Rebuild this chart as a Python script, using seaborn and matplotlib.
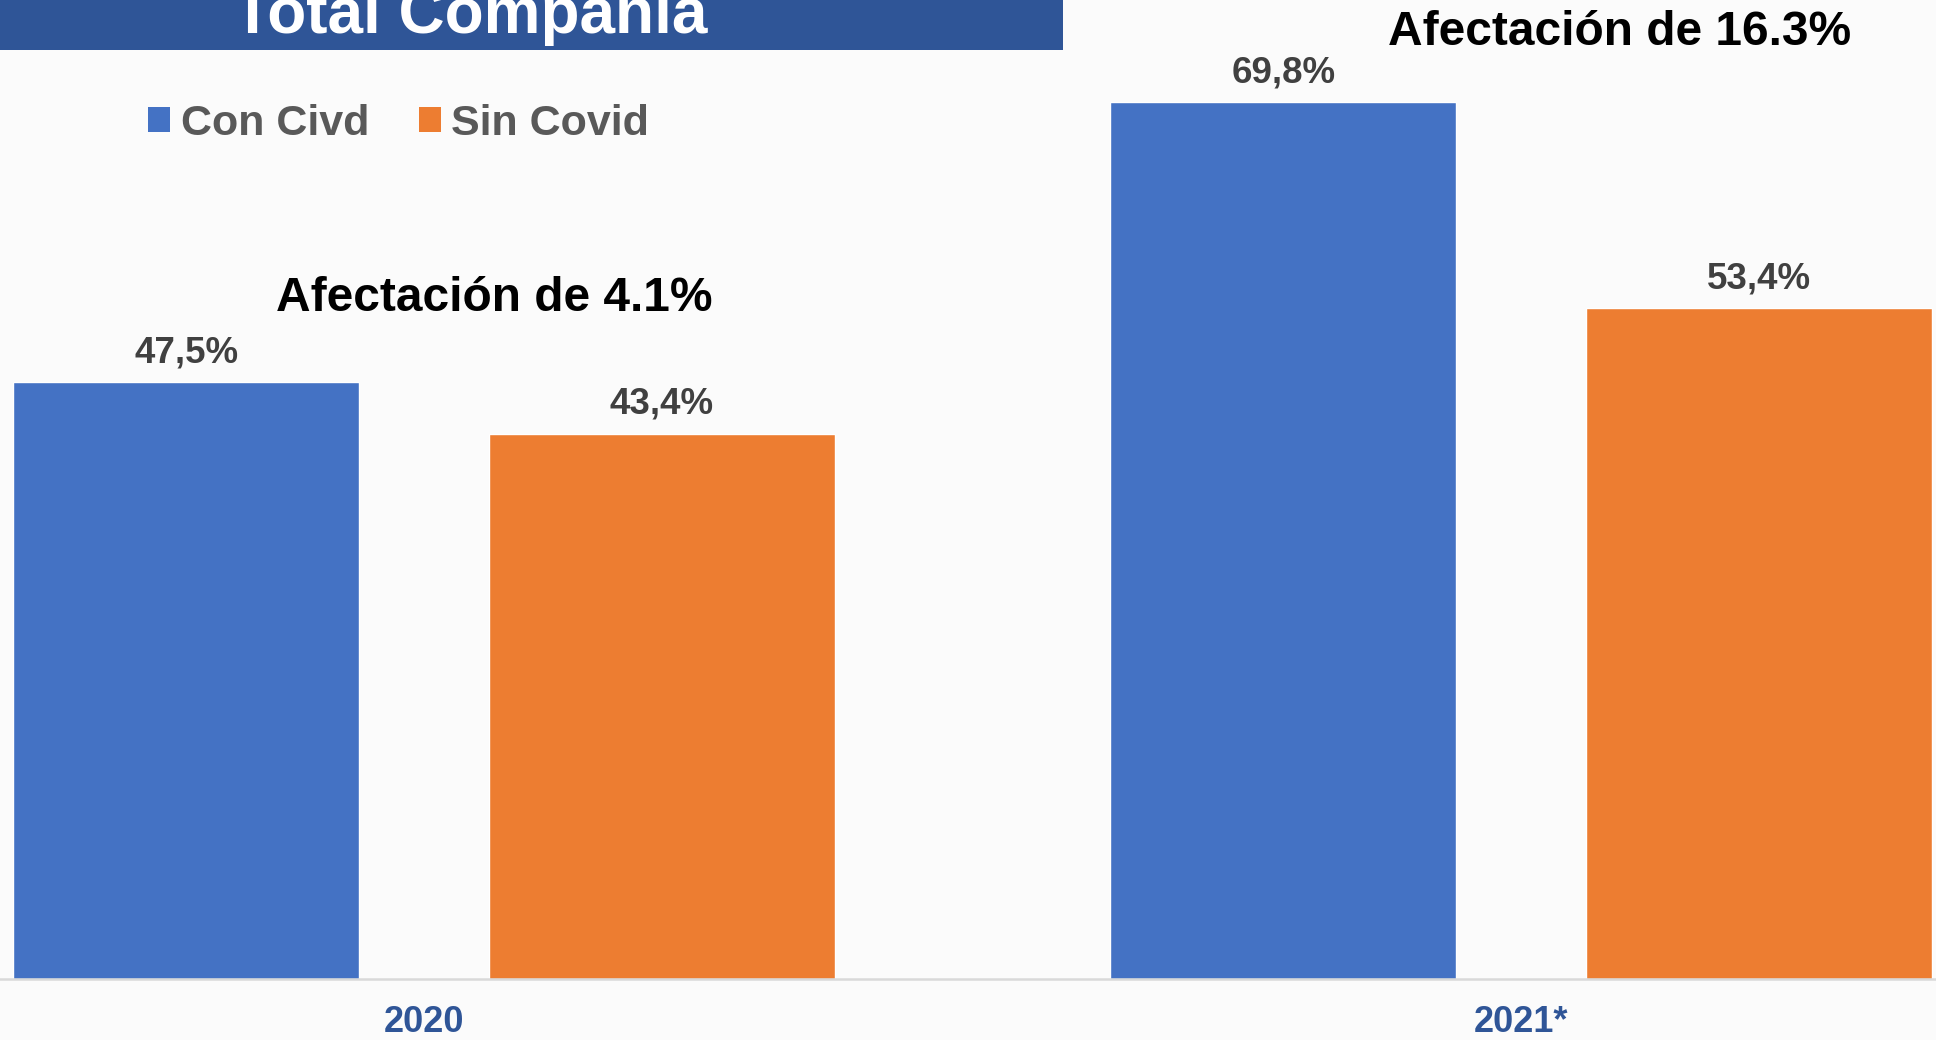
import pandas as pd
import matplotlib.pyplot as plt
import seaborn as sns
from matplotlib.patches import Patch, Rectangle

# data
years = ['2020', '2021*']
con_covid = [47.5, 69.8]
sin_covid = [43.4, 53.4]
series = ['Con Civd', 'Sin Covid']
afectacion = ['Afectación de 4.1%', 'Afectación de 16.3%']

df = pd.DataFrame({
    'year': years * 2,
    'serie': [series[0]] * 2 + [series[1]] * 2,
    'value': con_covid + sin_covid,
})

sns.set_theme(style='white')
plt.rcParams['font.family'] = ['Liberation Sans', 'DejaVu Sans']
plt.rcParams['font.weight'] = 'bold'

colors = ['#4472C4', '#ED7D31']
bg = '#FBFBFB'

fig = plt.figure(figsize=(19.36, 10.4), dpi=100, facecolor=bg)
ax = fig.add_axes([0, 61 / 1040, 1, 1 - 61 / 1040])
ax.set_facecolor('none')

sns.barplot(data=df, x='year', y='value', hue='serie', palette=colors,
            width=0.867, gap=0.2725, saturation=1, legend=False, ax=ax)

ax.set_xlim(-424 / 1097, (1936 - 424) / 1097)
ax.set_ylim(0, 979 / 12.565)

# value labels
for cont, vals in zip(ax.containers, [con_covid, sin_covid]):
    ax.bar_label(cont, labels=[f'{v:.1f}%'.replace('.', ',') for v in vals],
                 padding=8.5, fontsize=26.5, fontweight='bold', color='#404040')

# "Afectación" notes
ax.text(0.064, 54.15, afectacion[0], ha='center', va='center',
        fontsize=34.5, fontweight='bold', color='black')
ax.text(1.090, 75.3, afectacion[1], ha='center', va='center',
        fontsize=34.5, fontweight='bold', color='black')

# axes styling
for side in ['top', 'left', 'right']:
    ax.spines[side].set_visible(False)
ax.spines['bottom'].set_color('#D9D9D9')
ax.spines['bottom'].set_linewidth(1.8)
ax.set_yticks([])
ax.set_xlabel('')
ax.set_ylabel('')
ax.tick_params(axis='x', length=0, pad=19, labelsize=26, labelcolor='#2F5597')
for lbl in ax.get_xticklabels():
    lbl.set_fontweight('bold')

# legend
handles = [Patch(facecolor=c, edgecolor='none') for c in colors]
fig.legend(handles, series, loc='center left',
           bbox_to_anchor=(148 / 1936, 1 - 124 / 1040), ncol=2, frameon=False,
           labelcolor='#595959', handlelength=0.51, handleheight=0.51,
           handletextpad=0.25, columnspacing=1.15, borderpad=0, borderaxespad=0,
           prop={'weight': 'bold', 'size': 31})

# title banner (cut off at the top in the original)
fig.patches.append(Rectangle((0, 1 - 50 / 1040), 1063 / 1936, 50 / 1040,
                             transform=fig.transFigure, facecolor='#2F5597',
                             edgecolor='none', zorder=0))
fig.text(470 / 1936, 1 - 33 / 1040, 'Total Compañia', ha='center', va='baseline',
         fontsize=46, fontweight='bold', color='white')

fig.savefig('out.png', dpi=100, facecolor=bg)
